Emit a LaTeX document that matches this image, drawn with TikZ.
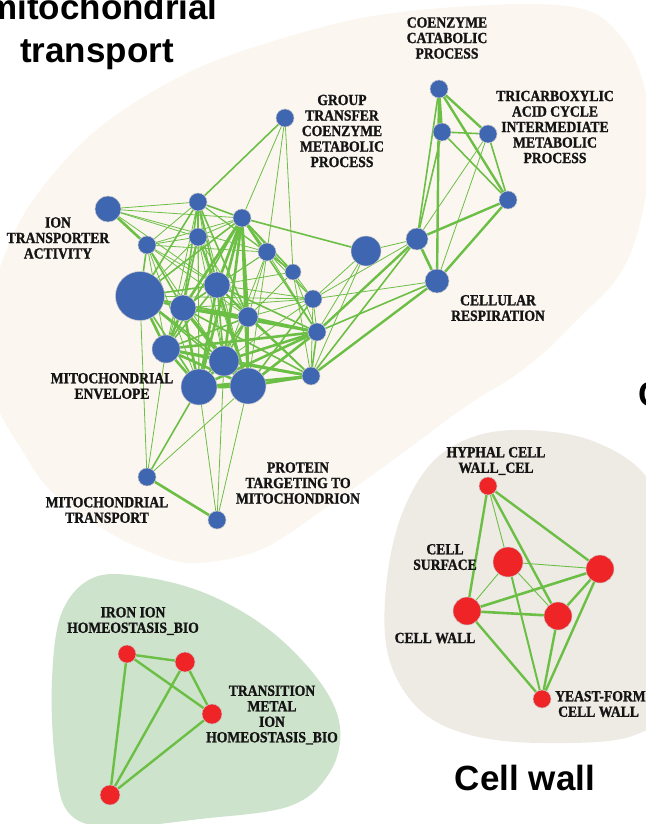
\documentclass[tikz,border=0pt]{standalone}
\usepackage{fontspec}
\setmainfont{Liberation Serif}
\newfontfamily\labfont[FakeStretch=0.88, FakeBold=1.2]{Liberation Serif Bold}
\newfontfamily\headfont{Liberation Sans Bold}
\definecolor{hullbeige}{HTML}{FBF6F0}
\definecolor{hullgray}{HTML}{EEEBE4}
\definecolor{hullgreen}{HTML}{CDE3CB}
\definecolor{edgegreen}{HTML}{6CBF45}
\definecolor{termblue}{HTML}{3F66B0}
\definecolor{termred}{HTML}{EE2427}
\pgfdeclarelayer{hulls}
\pgfdeclarelayer{links}
\pgfsetlayers{hulls,links,main}
\tikzset{
  term/.style={circle, inner sep=0pt, minimum size=#1, draw=black!22, line width=0.5pt},
  blueterm/.style={term=#1, fill=termblue},
  redterm/.style={term=#1, fill=termred},
  link/.style={draw=edgegreen, line width=#1},
  lab/.style={font=\labfont\fontsize{15.5}{15.5}\selectfont, align=center, inner sep=0pt, text=black!92},
  head/.style={font=\headfont\fontsize{35}{35}\selectfont, inner sep=0pt, anchor=base},
}
\begin{document}
\begin{tikzpicture}[x=1pt, y=-1pt]
\useasboundingbox (0,0) rectangle (645,824);

% ---- cluster hulls ----
\begin{pgfonlayer}{hulls}
\fill[hullbeige] plot[smooth cycle, tension=0.55] coordinates {
  (330,25) (420,10) (530,4) (592,12) (627,45) (645,90) (650,150) (645,200)
  (632,250) (612,285) (580,317) (547,350) (513,377) (480,397) (447,420)
  (400,455) (330,505) (260,550) (190,563) (140,548) (100,527) (50,490)
  (20,447) (-5,400) (-15,330) (0,267) (33,200) (100,127) (200,67)};
\fill[hullgray] plot[smooth cycle, tension=0.6] coordinates {
  (523,430) (590,440) (645,475) (672,540) (675,690) (635,735) (545,743)
  (470,735) (420,710) (390,662) (385,600) (398,525) (428,467) (470,438)};
\fill[hullgreen] plot[smooth cycle, tension=0.6] coordinates {
  (95,577) (150,578) (212,596) (272,632) (320,682) (340,727) (330,772)
  (290,806) (200,819) (110,827) (68,812) (55,760) (52,680) (62,612)};
\end{pgfonlayer}

% ---- mitochondrial terms ----
\node[blueterm=18] (nA) at (285,118) {};
\node[blueterm=26] (nB) at (108,209) {};
\node[blueterm=18] (nC) at (198,202) {};
\node[blueterm=18] (nD) at (242,218) {};
\node[blueterm=18] (nE) at (198,237) {};
\node[blueterm=18] (nF) at (147,245) {};
\node[blueterm=18] (nG) at (267,252) {};
\node[blueterm=16] (nH) at (293,272) {};
\node[blueterm=49] (nI) at (140,296) {};
\node[blueterm=26] (nJ) at (217,285) {};
\node[blueterm=26] (nK) at (183,308) {};
\node[blueterm=18] (nL) at (313,299) {};
\node[blueterm=20] (nM) at (248,317) {};
\node[blueterm=18] (nN) at (317,332) {};
\node[blueterm=28] (nO) at (166,349) {};
\node[blueterm=30] (nP) at (224,361) {};
\node[blueterm=36] (nQ) at (199,387) {};
\node[blueterm=36] (nR) at (248,386) {};
\node[blueterm=18] (nS) at (311,376) {};
\node[blueterm=30] (nT) at (366,251) {};
\node[blueterm=22] (nU) at (417,239) {};
\node[blueterm=24] (nV) at (437,281) {};
\node[blueterm=18] (nW) at (439,89) {};
\node[blueterm=18] (nX) at (442,132) {};
\node[blueterm=18] (nY) at (488,134) {};
\node[blueterm=18] (nZ) at (508,200) {};
\node[blueterm=18] (nMT) at (147,477) {};
\node[blueterm=18] (nPT) at (217,520) {};

% ---- cell wall terms ----
\node[redterm=18] (cHC) at (488,486) {};
\node[redterm=30] (cCS) at (508,562) {};
\node[redterm=28] (cRR) at (600,569) {};
\node[redterm=28] (cCW) at (467,611) {};
\node[redterm=28] (cCM) at (558,616) {};
\node[redterm=18] (cYF) at (542,699) {};

% ---- iron homeostasis terms ----
\node[redterm=18] (iA) at (127,654) {};
\node[redterm=20] (iB) at (185,662) {};
\node[redterm=20] (iC) at (212,714) {};
\node[redterm=20] (iD) at (110,795) {};

% ---- similarity links ----
\begin{pgfonlayer}{links}
\foreach \a/\b/\w in {
  nA/nC/1.6, nA/nD/0.8, nA/nG/0.8, nA/nH/0.8,
  nB/nC/0.8, nB/nD/0.8, nB/nE/0.8, nB/nF/2.6, nB/nG/0.8, nB/nJ/0.8,
  nC/nD/1.6, nC/nE/1.6, nC/nF/0.8, nC/nI/1.6, nC/nJ/1.6, nC/nK/1.6, nC/nG/0.8,
  nC/nH/0.8, nC/nM/1.6, nC/nO/0.8, nC/nP/0.8, nC/nQ/0.8, nC/nR/0.8,
  nD/nE/0.8, nD/nG/1.6, nD/nH/1.6, nD/nJ/2.6, nD/nK/2.6, nD/nM/2.6, nD/nP/2.6,
  nD/nQ/2.6, nD/nR/2.6, nD/nO/1.6, nD/nI/1.6, nD/nT/1.6, nD/nL/0.8, nD/nN/1.6, nD/nF/0.8,
  nE/nF/0.8, nE/nI/0.8, nE/nJ/1.6, nE/nK/1.6, nE/nM/0.8, nE/nO/0.8, nE/nP/0.8,
  nE/nQ/0.8, nE/nR/0.8,
  nF/nI/1.6, nF/nJ/0.8, nF/nK/1.6, nF/nO/0.8, nF/nM/0.8, nF/nP/0.8, nF/nQ/0.8, nF/nG/0.8,
  nG/nH/1.6, nG/nJ/0.8, nG/nM/0.8, nG/nL/0.8, nG/nN/0.8, nG/nP/0.8, nG/nK/0.8, nG/nR/0.8,
  nH/nL/0.8, nH/nN/0.8, nH/nM/0.8, nH/nS/0.8, nH/nJ/0.8,
  nI/nJ/1.6, nI/nK/2.6, nI/nM/1.6, nI/nO/2.6, nI/nP/1.6, nI/nQ/1.6, nI/nR/1.6,
  nI/nN/0.8, nI/nMT/0.8, nI/nL/0.8,
  nJ/nK/1.6, nJ/nM/1.6, nJ/nO/1.6, nJ/nP/1.6, nJ/nQ/2.6, nJ/nR/2.6, nJ/nL/0.8,
  nJ/nN/1.6, nJ/nS/1.6,
  nK/nM/2.6, nK/nO/2.6, nK/nP/2.6, nK/nQ/2.6, nK/nR/2.6, nK/nN/2.6, nK/nL/0.8, nK/nS/1.6,
  nL/nM/0.8, nL/nN/0.8, nL/nS/0.8, nL/nU/0.8, nL/nV/0.8, nL/nT/0.8, nL/nR/1.6, nL/nP/0.8,
  nM/nN/2.6, nM/nP/1.6, nM/nQ/1.6, nM/nR/2.6, nM/nS/1.6, nM/nO/1.6,
  nN/nO/2.6, nN/nP/2.6, nN/nQ/2.6, nN/nR/2.6, nN/nS/1.6, nN/nU/2.4, nN/nV/1.6, nN/nT/0.8,
  nO/nP/2.6, nO/nQ/2.6, nO/nR/2.6, nO/nS/2.6, nO/nMT/0.8,
  nP/nQ/2.6, nP/nR/2.6, nP/nS/2.6, nP/nPT/0.8,
  nQ/nR/3.6, nQ/nS/2.6, nQ/nMT/1.6, nQ/nPT/0.8,
  nR/nS/2.6, nR/nMT/0.8, nR/nPT/0.8,
  nS/nU/1.6, nS/nV/2.4, nS/nT/0.8,
  nT/nU/0.8, nU/nV/2.6,
  nW/nX/2.4, nW/nY/2.4, nW/nZ/2.4, nW/nV/2.4, nW/nU/1.6,
  nX/nY/1.6, nX/nZ/1.6, nX/nU/1.6,
  nY/nZ/1.6, nY/nU/0.8, nY/nV/0.8,
  nZ/nU/2.4, nZ/nV/2.4,
  nMT/nPT/2.6,
  cHC/cCW/2.4, cHC/cCS/0.9, cHC/cCM/2.4, cHC/cRR/2.4,
  cCS/cRR/0.9, cCS/cCW/0.9, cCS/cCM/0.9, cCS/cYF/2,
  cCW/cRR/2.6, cCW/cCM/2.6, cCW/cYF/2.4, cCM/cYF/2.4, cRR/cYF/2.4, cRR/cCM/2.4,
  iA/iB/2.4, iA/iC/2.4, iB/iC/2.4, iA/iD/2.4, iB/iD/2.4, iC/iD/2.4}
  \draw[link=\w pt] (\a) -- (\b);
\end{pgfonlayer}

% ---- term labels ----
\node[lab] (lGT) at (342,131) {GROUP\\TRANSFER\\COENZYME\\METABOLIC\\PROCESS};
\node[lab] (lCC) at (447,38) {COENZYME\\CATABOLIC\\PROCESS};
\node[lab] (lTCA) at (555,127) {TRICARBOXYLIC\\ACID CYCLE\\INTERMEDIATE\\METABOLIC\\PROCESS};
\node[lab] (lCR) at (498,308) {CELLULAR\\RESPIRATION};
\node[lab] (lIT) at (58,238) {ION\\TRANSPORTER\\ACTIVITY};
\node[lab] (lME) at (112,386) {MITOCHONDRIAL\\ENVELOPE};
\node[lab] (lPT) at (298,483) {PROTEIN\\TARGETING TO\\MITOCHONDRION};
\node[lab] (lMT) at (107,510) {MITOCHONDRIAL\\TRANSPORT};
\node[lab] (lHC) at (496,461) {HYPHAL CELL\\WALL\_CEL};
\node[lab] (lCS) at (445,557) {CELL\\SURFACE};
\node[lab] (lCW) at (435,638) {CELL WALL};
\node[lab, align=left, anchor=west] (lYF) at (555,704) {YEAST-FORM\\\hspace*{3pt}CELL WALL};
\node[lab] (lIR) at (133,621) {IRON ION\\HOMEOSTASIS\_BIO};
\node[lab] (lTM) at (272,715) {TRANSITION\\METAL\\ION\\HOMEOSTASIS\_BIO};

% ---- cluster titles ----
\node[head] (h1) at (102,20) {mitochondrial};
\node[head] (h2) at (97,63) {transport};
\node[head] (h3) at (525,790) {Cell wall};
\node[head, anchor=base west] (h4) at (638,406) {C};
\end{tikzpicture}
\end{document}
